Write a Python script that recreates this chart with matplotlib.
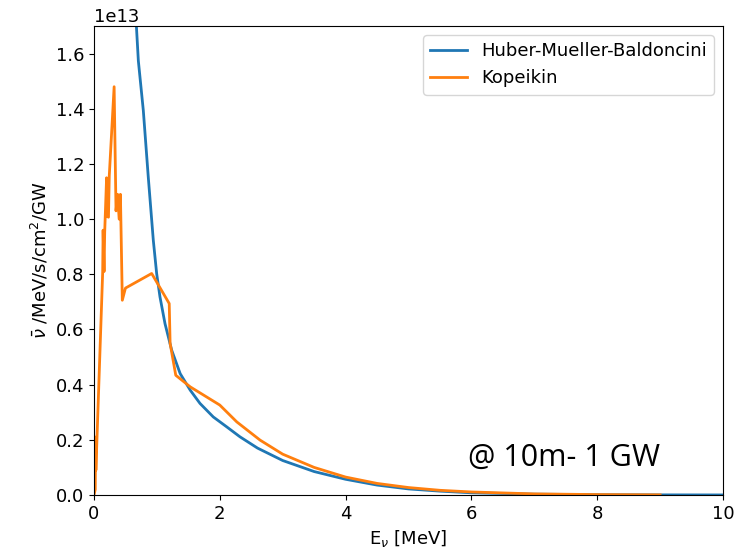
import matplotlib
matplotlib.use("Agg")
import matplotlib.pyplot as plt

# Huber-Mueller-Baldoncini flux (units of 1e13 /MeV/s/cm2/GW)
hm_E = [0.6, 0.705, 0.784, 0.863, 0.943, 0.996, 1.049, 1.129, 1.235, 1.37, 1.53, 1.685,
        1.896, 2.11, 2.32, 2.6, 3.0, 3.5, 4.0, 4.5, 5.0, 5.5, 6.0, 7.0, 8.0, 9.0, 10.0]
hm_flux = [2.0, 1.574, 1.394, 1.152, 0.923, 0.803, 0.718, 0.621, 0.525, 0.44, 0.38, 0.332,
           0.283, 0.247, 0.211, 0.17, 0.125, 0.085, 0.057, 0.036, 0.022, 0.014, 0.008,
           0.003, 0.0012, 0.0005, 0.0002]

# Kopeikin flux
kop_E = [0.0, 0.02, 0.025, 0.03, 0.138, 0.145, 0.16, 0.17, 0.20, 0.21, 0.23, 0.243,
         0.32, 0.35, 0.375, 0.40, 0.42, 0.45, 0.50, 0.917, 1.196, 1.21, 1.30, 1.53,
         2.0, 2.27, 2.64, 3.0, 3.5, 4.0, 4.5, 5.0, 5.5, 6.0, 7.0, 8.0, 9.0]
kop_flux = [0.0, 0.02, 0.21, 0.09, 0.808, 0.96, 0.81, 0.953, 1.15, 1.01, 1.007, 1.158,
            1.48, 1.03, 1.09, 1.00, 1.09, 0.706, 0.75, 0.803, 0.694, 0.55, 0.434, 0.392,
            0.326, 0.265, 0.199, 0.148, 0.10, 0.065, 0.042, 0.027, 0.017, 0.011, 0.004,
            0.0015, 0.0005]

scale = 1e13

plt.rcParams['font.size'] = 13

fig = plt.figure(figsize=(7.49, 5.54), dpi=100)
ax = fig.add_axes([0.1255, 0.1065, 0.8398, 0.8465])

ax.plot(hm_E, [v * scale for v in hm_flux], label='Huber-Mueller-Baldoncini', lw=2)
ax.plot(kop_E, [v * scale for v in kop_flux], label='Kopeikin', lw=2)

ax.set_xlim(0, 10)
ax.set_ylim(0, 1.7e13)
ax.set_xlabel(r"E$_\nu$ [MeV]")
ax.set_ylabel(r"$\bar{\nu}$ /MeV/s/cm$^2$/GW")
ax.legend(loc='upper right')

ax.text(0.595, 0.063, "@ 10m- 1 GW", transform=ax.transAxes,
        fontsize=22, family='Open Sans', color='black')

fig.savefig("out.png", dpi=100)
